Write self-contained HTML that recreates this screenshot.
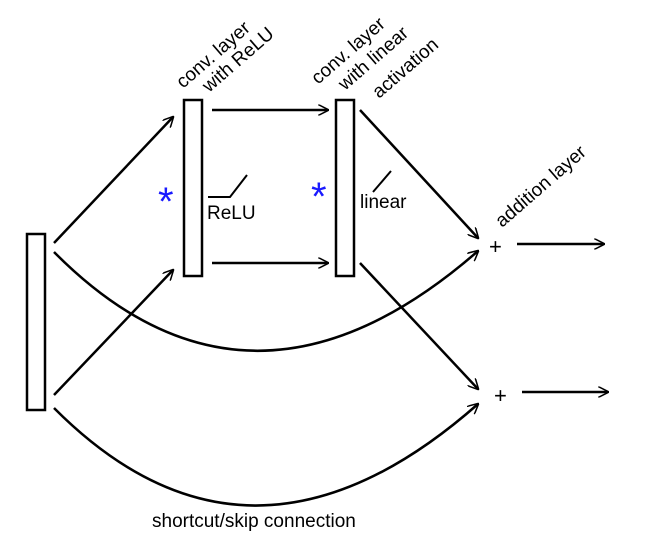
<!DOCTYPE html>
<html><head><style>body{margin:0;background:#fff}</style></head><body>
<svg width="651" height="551" viewBox="0 0 651 551" xmlns="http://www.w3.org/2000/svg" font-family="Liberation Sans, sans-serif">
<defs>
<marker id="b" viewBox="0 0 10 10" refX="9" refY="5" markerWidth="11" markerHeight="11" markerUnits="userSpaceOnUse" orient="auto"><path d="M0,0 L10,5 L0,10" fill="none" stroke="#000" stroke-width="1.4"/></marker></defs>
<g fill="none" stroke="#000" stroke-width="2.5">
<rect x="27" y="234" width="18" height="176"/>
<rect x="184" y="100" width="18" height="176"/>
<rect x="336" y="100" width="18" height="176"/>
</g>
<g fill="none" stroke="#000" stroke-width="2.5" marker-end="url(#b)">
<line x1="54" y1="243" x2="173" y2="117"/>
<line x1="54" y1="395" x2="173" y2="270"/>
<line x1="212" y1="110" x2="328" y2="110"/>
<line x1="212" y1="263" x2="328" y2="263"/>
<line x1="360" y1="110" x2="478" y2="238"/>
<line x1="360" y1="263" x2="478" y2="389"/>
<path d="M54,252 Q250,450 478,251"/>
<path d="M54,408 Q250,605 478,404"/>
<line x1="517" y1="244" x2="604" y2="244"/>
<line x1="522" y1="392" x2="608" y2="392"/>
</g>
<g fill="none" stroke="#000" stroke-width="2">
<polyline points="208,197 230,197 247,175"/>
<line x1="373" y1="192" x2="391" y2="171"/>
</g>
<g font-size="19" fill="#000">
<text transform="translate(183,89) rotate(-41)">conv. layer</text>
<text transform="translate(209,93) rotate(-41)">with ReLU</text>
<text transform="translate(318,85) rotate(-41)">conv. layer</text>
<text transform="translate(345,91) rotate(-41)">with linear</text>
<text transform="translate(379,99) rotate(-41)">activation</text>
<text transform="translate(502,228) rotate(-41)">addition layer</text>
<text x="207" y="219">ReLU</text>
<text x="360" y="208">linear</text>
<text x="152" y="527">shortcut/skip connection</text>
<text x="489" y="254" font-size="22">+</text>
<text x="494" y="403" font-size="22">+</text>
</g>
<g font-size="40" fill="#1a1aff">
<text x="158" y="215">*</text>
<text x="311" y="210">*</text>
</g>
</svg>
</body></html>
